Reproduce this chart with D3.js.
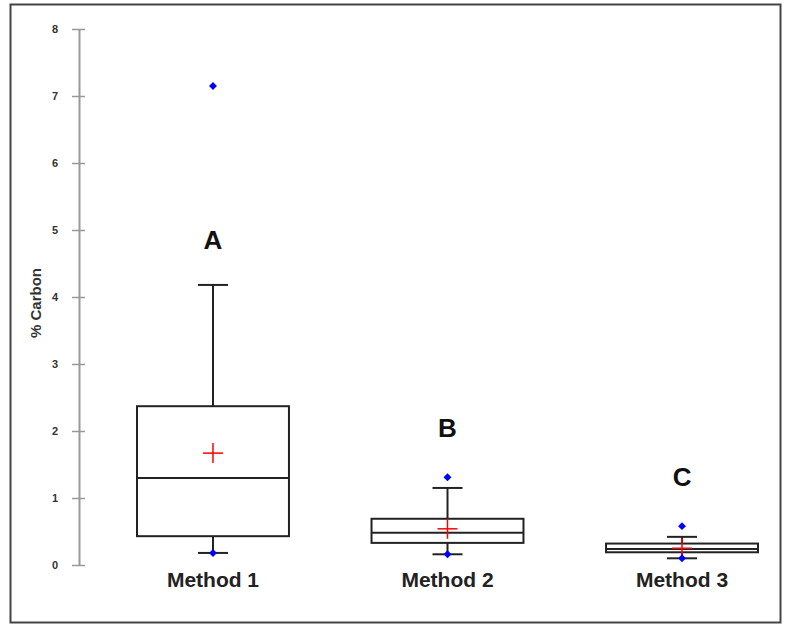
<!DOCTYPE html>
<html>
<head>
<meta charset="utf-8">
<script src="https://cdn.jsdelivr.net/npm/d3@7"></script>
<style>
  html, body { margin: 0; padding: 0; background: #fff; }
  svg { display: block; }
</style>
</head>
<body>
<svg id="chart" width="786" height="626"></svg>
<script>
// Box plot summaries of % Carbon by method
const methods   = ["Method 1", "Method 2", "Method 3"];
const whiskerLo = [0.18, 0.16, 0.10];
const q1        = [0.43, 0.33, 0.19];
const medians   = [1.30, 0.48, 0.24];
const q3        = [2.37, 0.69, 0.32];
const whiskerHi = [4.18, 1.15, 0.42];
const means     = [1.67, 0.54, 0.25];
const minPoints = [0.18, 0.16, 0.10];
const maxPoints = [7.15, 1.31, 0.58];
const groupLetters = ["A", "B", "C"];
const letterPos    = [4.85, 2.04, 1.31];
const yTicks = [0, 1, 2, 3, 4, 5, 6, 7, 8];

const svg = d3.select("#chart");

// outer frame
svg.append("rect")
  .attr("x", 10.5).attr("y", 4.5)
  .attr("width", 770).attr("height", 618)
  .attr("fill", "none").attr("stroke", "#444").attr("stroke-width", 2);

const y = d3.scaleLinear().domain([0, 8]).range([565, 29]);
const x = d3.scaleBand().domain(methods).range([137, 758]).paddingInner(0.352).paddingOuter(0);

// y axis with cross-style ticks
const axisX = 79;
const yAxis = svg.append("g").attr("transform", `translate(${axisX},0)`)
  .call(d3.axisLeft(y).tickValues(yTicks).tickSize(7).tickSizeOuter(0).tickPadding(14)
        .tickFormat(d3.format("d")));
yAxis.select(".domain").attr("stroke", "#999").attr("stroke-width", 2);
yAxis.selectAll(".tick line").attr("stroke", "#999").attr("stroke-width", 1.5)
  .attr("x1", 6);
yAxis.selectAll(".tick text")
  .attr("font-family", "Liberation Sans, Arial, sans-serif")
  .attr("font-size", 11).attr("font-weight", "bold").attr("fill", "#333");

svg.append("text")
  .attr("transform", `translate(41,${(y(0) + y(8)) / 2 + 6}) rotate(-90)`)
  .attr("text-anchor", "middle")
  .attr("font-family", "Liberation Sans, Arial, sans-serif")
  .attr("font-size", 15).attr("font-weight", "bold").attr("fill", "#333")
  .text("% Carbon");

const idx = d3.range(methods.length);
const g = svg.append("g");
const stroke = "#222";
const capHalf = 15;

idx.forEach(i => {
  const cx = x(methods[i]) + x.bandwidth() / 2;
  const left = x(methods[i]), w = x.bandwidth();

  // whiskers
  g.append("line").attr("x1", cx).attr("x2", cx).attr("y1", y(q3[i])).attr("y2", y(whiskerHi[i]))
    .attr("stroke", stroke).attr("stroke-width", 2);
  g.append("line").attr("x1", cx).attr("x2", cx).attr("y1", y(q1[i])).attr("y2", y(whiskerLo[i]))
    .attr("stroke", stroke).attr("stroke-width", 2);
  [whiskerHi[i], whiskerLo[i]].forEach(v => {
    g.append("line").attr("x1", cx - capHalf).attr("x2", cx + capHalf).attr("y1", y(v)).attr("y2", y(v))
      .attr("stroke", stroke).attr("stroke-width", 2);
  });

  // box and median
  g.append("rect").attr("x", left).attr("y", y(q3[i]))
    .attr("width", w).attr("height", y(q1[i]) - y(q3[i]))
    .attr("fill", "none").attr("stroke", stroke).attr("stroke-width", 2);
  g.append("line").attr("x1", left).attr("x2", left + w).attr("y1", y(medians[i])).attr("y2", y(medians[i]))
    .attr("stroke", stroke).attr("stroke-width", 2);

  // mean marker
  const m = y(means[i]);
  g.append("line").attr("x1", cx - 10).attr("x2", cx + 10).attr("y1", m).attr("y2", m)
    .attr("stroke", "#f00").attr("stroke-width", 1.5);
  g.append("line").attr("x1", cx).attr("x2", cx).attr("y1", m - 10).attr("y2", m + 10)
    .attr("stroke", "#f00").attr("stroke-width", 1.5);

  // min / max points
  [minPoints[i], maxPoints[i]].forEach(v => {
    g.append("path")
      .attr("transform", `translate(${cx},${y(v)})`)
      .attr("d", d3.symbol(d3.symbolDiamond2, 40)())
      .attr("fill", "#00f");
  });

  // group letter
  g.append("text").attr("x", cx).attr("y", y(letterPos[i]))
    .attr("text-anchor", "middle").attr("dominant-baseline", "central")
    .attr("font-family", "Liberation Sans, Arial, sans-serif")
    .attr("font-size", 26).attr("font-weight", "bold").attr("fill", "#111")
    .text(groupLetters[i]);

  // category label
  g.append("text").attr("x", cx).attr("y", 587)
    .attr("text-anchor", "middle")
    .attr("font-family", "Liberation Sans, Arial, sans-serif")
    .attr("font-size", 21).attr("font-weight", "bold").attr("fill", "#222")
    .text(methods[i]);
});
</script>
</body>
</html>
